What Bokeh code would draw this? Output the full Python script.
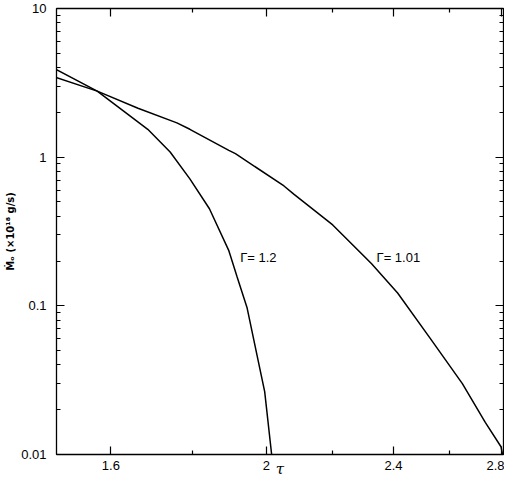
from bokeh.plotting import figure
from bokeh.models import Range1d, FixedTicker, CustomJSTickFormatter, LogAxis, Label
from bokeh.embed import file_html
from bokeh.resources import INLINE

# Gamma = 1.2 curve
tau_g120 = [1.479, 1.569, 1.687, 1.742, 1.792, 1.843, 1.895, 1.9175, 1.945, 1.995, 2.015]
mdot_g120 = [3.89, 2.78, 1.54, 1.083, 0.715, 0.450, 0.235, 0.157, 0.0975, 0.0265, 0.0100]

# Gamma = 1.01 curve
tau_g101 = [1.479, 1.569, 1.6635, 1.759, 1.792, 1.895, 1.913, 2.051, 2.080, 2.1995,
            2.3256, 2.4141, 2.529, 2.649, 2.7375, 2.800, 2.806]
mdot_g101 = [3.44, 2.78, 2.132, 1.701, 1.54, 1.111, 1.057, 0.640, 0.564, 0.350,
             0.192, 0.1221, 0.0606, 0.0300, 0.01643, 0.01128, 0.0100]

x_major = [1.6, 2.0, 2.4, 2.8]
x_minor = [1.8, 2.2, 2.6]
y_major = [0.01, 0.1, 1, 10]
y_minor = [m * 10.0 ** e for e in (-2, -1, 0) for m in range(2, 10)]

curve_labels = ["Γ= 1.2", "Γ= 1.01"]
x_label = "τ"
y_label = "Ṁₒ (×10¹⁸ g/s)"

FONT = "Liberation Sans"

p = figure(width=504, height=480,
           x_axis_type="log", y_axis_type="log",
           x_range=Range1d(1.48, 2.81), y_range=Range1d(0.01, 10),
           output_backend="svg", toolbar_location=None,
           min_border_left=56, min_border_right=1,
           min_border_top=8, min_border_bottom=24)
p.grid.visible = False
p.outline_line_color = "black"
p.outline_line_width = 1
p.background_fill_color = "white"
p.border_fill_color = "white"

xt = FixedTicker(ticks=x_major, minor_ticks=x_minor)
yt = FixedTicker(ticks=y_major, minor_ticks=y_minor)
fmt = CustomJSTickFormatter(code="return tick.toString();")


def style(ax):
    ax.axis_line_color = "black"
    ax.axis_line_width = 1.3
    ax.major_tick_in = 8
    ax.major_tick_out = 0
    ax.minor_tick_in = 4
    ax.minor_tick_out = 0
    ax.major_tick_line_color = "black"
    ax.minor_tick_line_color = "black"
    ax.major_tick_line_width = 1.2
    ax.minor_tick_line_width = 1.2
    ax.major_label_text_font = FONT
    ax.major_label_text_font_size = "13px"
    ax.major_label_text_color = "black"


xa = p.xaxis[0]
xa.ticker = xt
xa.formatter = fmt
style(xa)
xa.major_label_standoff = 6
xa.axis_label = x_label
xa.axis_label_standoff = -13
xa.axis_label_text_font = "DejaVu Serif"
xa.axis_label_text_font_style = "italic"
xa.axis_label_text_font_size = "15px"
xa.axis_label_text_color = "black"

ya = p.yaxis[0]
ya.ticker = yt
ya.formatter = fmt
style(ya)
ya.major_label_standoff = 10
ya.axis_label = y_label
ya.axis_label_standoff = 2
ya.axis_label_text_font = "DejaVu Sans"
ya.axis_label_text_font_size = "10px"
ya.axis_label_text_font_style = "bold"
ya.axis_label_text_color = "black"

blank = CustomJSTickFormatter(code="return '';")
top = LogAxis(ticker=xt, formatter=blank, major_label_standoff=0)
style(top)
top.major_label_text_font_size = "0px"
right = LogAxis(ticker=yt, formatter=blank, major_label_standoff=0)
style(right)
right.major_label_text_font_size = "0px"
p.add_layout(top, "above")
p.add_layout(right, "right")

p.line(tau_g120, mdot_g120, line_color="black", line_width=1.5)
p.line(tau_g101, mdot_g101, line_color="black", line_width=1.5)

p.add_layout(Label(x=1.926, y=0.210, text=curve_labels[0], text_font=FONT,
                   text_font_size="13px", text_baseline="middle",
                   text_align="left", text_color="black"))
p.add_layout(Label(x=2.342, y=0.212, text=curve_labels[1], text_font=FONT,
                   text_font_size="13px", text_baseline="middle",
                   text_align="left", text_color="black"))

open("out.html", "w").write(file_html(p, INLINE))
